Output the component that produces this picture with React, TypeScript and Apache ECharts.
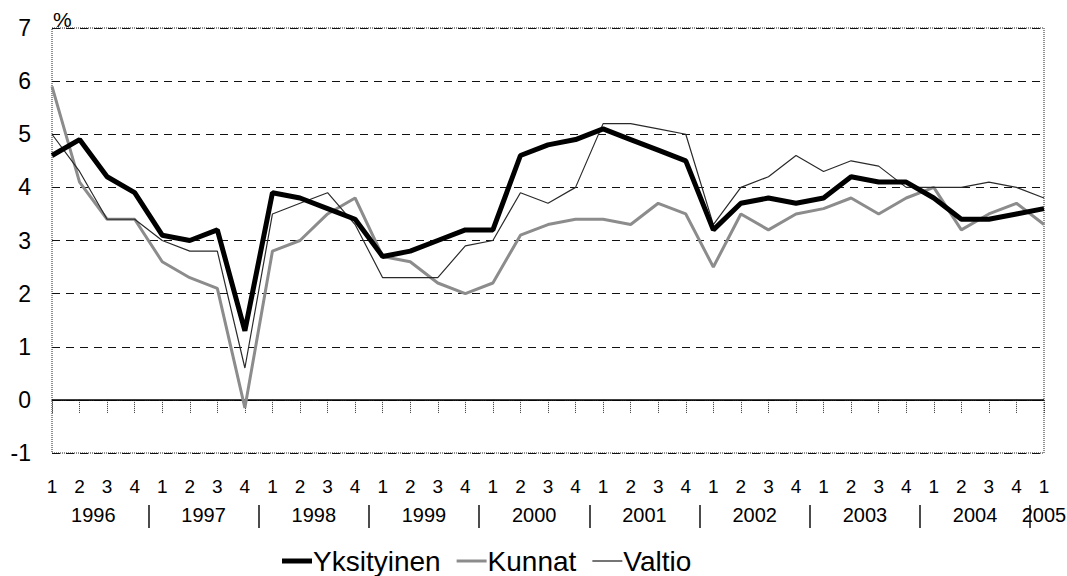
import React, { useEffect, useRef } from "react";
import * as echarts from "echarts";

const quarterLabels = [
  "1","2","3","4","1","2","3","4","1","2","3","4","1","2","3","4",
  "1","2","3","4","1","2","3","4","1","2","3","4","1","2","3","4",
  "1","2","3","4","1",
];
const years = ["1996","1997","1998","1999","2000","2001","2002","2003","2004","2005"];
const yearSeparators = [3.5, 7.5, 11.5, 15.5, 19.5, 23.5, 27.5, 31.5, 35.5];
const yearLabelPositions = [1.5, 5.5, 9.5, 13.5, 17.5, 21.5, 25.5, 29.5, 33.5, 36];

const yksityinen = [
  4.6, 4.9, 4.2, 3.9, 3.1, 3.0, 3.2, 1.3, 3.9, 3.8, 3.6, 3.4, 2.7, 2.8, 3.0, 3.2,
  3.2, 4.6, 4.8, 4.9, 5.1, 4.9, 4.7, 4.5, 3.2, 3.7, 3.8, 3.7, 3.8, 4.2, 4.1, 4.1,
  3.8, 3.4, 3.4, 3.5, 3.6,
];
const kunnat = [
  5.9, 4.1, 3.4, 3.4, 2.6, 2.3, 2.1, -0.15, 2.8, 3.0, 3.5, 3.8, 2.7, 2.6, 2.2, 2.0,
  2.2, 3.1, 3.3, 3.4, 3.4, 3.3, 3.7, 3.5, 2.5, 3.5, 3.2, 3.5, 3.6, 3.8, 3.5, 3.8,
  4.0, 3.2, 3.5, 3.7, 3.3,
];
const valtio = [
  5.0, 4.3, 3.4, 3.4, 3.0, 2.8, 2.8, 0.6, 3.5, 3.7, 3.9, 3.3, 2.3, 2.3, 2.3, 2.9,
  3.0, 3.9, 3.7, 4.0, 5.2, 5.2, 5.1, 5.0, 3.3, 4.0, 4.2, 4.6, 4.3, 4.5, 4.4, 4.0,
  4.0, 4.0, 4.1, 4.0, 3.8,
];

const FONT = "'Liberation Sans', Arial, sans-serif";

export default function App() {
  const ref = useRef<HTMLDivElement>(null);
  useEffect(() => {
    if (!ref.current) return;
    const chart = echarts.init(ref.current, null, { renderer: "svg" });
    chart.setOption({
      animation: false,
      backgroundColor: "#fff",
      textStyle: { fontFamily: FONT, color: "#000" },
      grid: {
        left: 52,
        right: 23,
        top: 28,
        bottom: 123,
        show: true,
        borderColor: "#222",
        borderWidth: 1,
        borderType: "dotted",
        outerBoundsMode: "none",
      },
      legend: {
        left: 277,
        top: 542,
        itemWidth: 30,
        itemHeight: 14,
        itemGap: 16,
        data: [
          { name: "Yksityinen", icon: "path://M0,0 L30,0 L30,5 L0,5 Z" },
          { name: "Kunnat", icon: "path://M0,0 L30,0 L30,3 L0,3 Z" },
          { name: "Valtio", icon: "path://M0,0 L30,0 L30,1.3 L0,1.3 Z" },
        ],
        textStyle: { fontFamily: FONT, fontSize: 28, color: "#000", padding: [0, 0, 0, -4] },
      },
      graphic: [
        {
          type: "text",
          left: 53,
          top: 9,
          style: { text: "%", fontFamily: FONT, fontSize: 21, fill: "#000" },
        },
      ],
      xAxis: [
        {
          type: "category",
          data: quarterLabels,
          boundaryGap: false,
          axisLine: { show: true, lineStyle: { color: "#222", width: 1, type: "dotted" } },
          axisTick: {
            show: true,
            interval: 0,
            length: 14,
            lineStyle: { color: "#333", width: 1, type: "dotted" },
          },
          axisLabel: {
            interval: 0,
            margin: 24,
            fontSize: 19,
            fontFamily: FONT,
            color: "#000",
          },
          splitLine: { show: false },
        },
        {
          type: "value",
          min: 0,
          max: 36,
          position: "bottom",
          offset: 52,
          axisLine: { show: false },
          splitLine: { show: false },
          axisTick: {
            show: true,
            customValues: yearSeparators,
            length: 23,
            lineStyle: { color: "#111", width: 1.5 },
          },
          axisLabel: {
            show: true,
            customValues: yearLabelPositions,
            margin: 0,
            fontSize: 20,
            fontFamily: FONT,
            color: "#000",
            formatter: (v: number) => years[Math.round((v - 1.5) / 4)] ?? "",
          },
        },
      ],
      yAxis: {
        type: "value",
        min: -1,
        max: 7,
        interval: 1,
        axisLine: { show: false },
        axisTick: { show: false },
        axisLabel: { fontSize: 23, fontFamily: FONT, color: "#000", margin: 21 },
        splitLine: {
          show: true,
          lineStyle: { color: "#111", width: 1, type: [8, 6] },
        },
      },
      series: [
        {
          name: "Kunnat",
          type: "line",
          data: kunnat,
          symbol: "none",
          lineStyle: { color: "#8c8c8c", width: 3 },
          itemStyle: { color: "#8c8c8c" },
          z: 2,
        },
        {
          name: "Valtio",
          type: "line",
          data: valtio,
          symbol: "none",
          lineStyle: { color: "#2a2a2a", width: 1.2 },
          itemStyle: { color: "#2a2a2a" },
          z: 3,
        },
        {
          name: "Yksityinen",
          type: "line",
          data: yksityinen,
          symbol: "none",
          lineStyle: { color: "#000", width: 5 },
          itemStyle: { color: "#000" },
          z: 4,
          markLine: {
            silent: true,
            symbol: "none",
            label: { show: false },
            lineStyle: { color: "#000", width: 1.5, type: "solid" },
            data: [{ yAxis: 0 }],
            z: 1,
          },
        },
      ],
    });
    return () => chart.dispose();
  }, []);
  return (
    <div
      ref={ref}
      style={{ position: "fixed", left: 0, top: 0, width: 1067, height: 576, background: "#fff" }}
    />
  );
}
